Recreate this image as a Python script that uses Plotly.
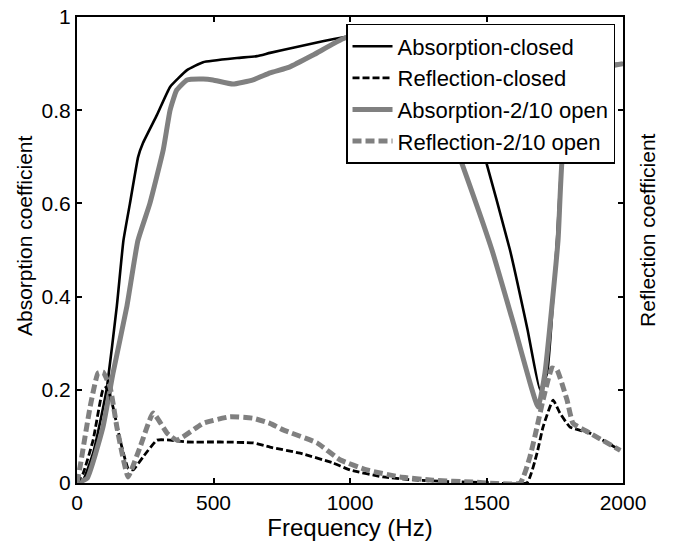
import plotly.graph_objects as go

# ---- data ----
abs_closed_f = [0, 22, 59, 95, 110, 146, 170, 194, 224, 242, 293, 341, 403, 462, 586, 659, 707, 800, 900, 982,
                1100, 1200, 1300, 1400, 1484, 1586, 1650, 1696, 1722, 1758, 1780, 1850, 1920, 2000]
abs_closed_v = [0, 0.006, 0.064, 0.16, 0.206, 0.38, 0.52, 0.60, 0.70, 0.73, 0.79, 0.85, 0.886, 0.903, 0.912, 0.916,
                0.923, 0.935, 0.948, 0.957, 0.968, 0.972, 0.955, 0.88, 0.72, 0.50, 0.33, 0.20, 0.236, 0.52, 0.72,
                0.86, 0.895, 0.90]

refl_closed_f = [0, 22, 59, 95, 110, 132, 158, 187, 205, 242, 293, 341, 403, 524, 645, 707, 817, 938, 1000, 1121,
                 1245, 1366, 1500, 1648, 1685, 1707, 1744, 1769, 1806, 1879, 1990]
refl_closed_v = [0, 0.02, 0.092, 0.20, 0.206, 0.163, 0.092, 0.032, 0.028, 0.056, 0.092, 0.092, 0.088, 0.088, 0.086,
                 0.077, 0.064, 0.043, 0.028, 0.013, 0.006, 0.003, 0.001, 0.0, 0.064, 0.12, 0.178, 0.15, 0.12,
                 0.107, 0.07]

abs_open_f = [0, 37, 95, 132, 183, 223, 267, 316, 341, 365, 403, 462, 498, 571, 645, 707, 780, 870, 982, 1100,
              1200, 1300, 1392, 1520, 1600, 1689, 1714, 1762, 1780, 1850, 1920, 2000]
abs_open_v = [0, 0.01, 0.12, 0.236, 0.38, 0.52, 0.60, 0.715, 0.80, 0.843, 0.865, 0.867, 0.865, 0.856, 0.865, 0.88,
              0.893, 0.92, 0.955, 0.962, 0.94, 0.86, 0.715, 0.50, 0.34, 0.163, 0.236, 0.52, 0.715, 0.86, 0.89, 0.90]

refl_open_f = [0, 11, 48, 77, 95, 121, 146, 170, 187, 231, 279, 330, 366, 462, 560, 645, 707, 755, 879, 963, 1062,
               1183, 1304, 1450, 1623, 1659, 1685, 1707, 1740, 1758, 1795, 1817, 1879, 1990]
refl_open_v = [0, 0.034, 0.163, 0.236, 0.238, 0.206, 0.12, 0.05, 0.013, 0.077, 0.15, 0.107, 0.092, 0.128, 0.142,
               0.139, 0.128, 0.114, 0.086, 0.05, 0.028, 0.013, 0.006, 0.002, 0.0, 0.056, 0.12, 0.178, 0.247,
               0.243, 0.178, 0.128, 0.107, 0.07]

x_ticks = [0, 500, 1000, 1500, 2000]
y_ticks = [0, 0.2, 0.4, 0.6, 0.8, 1]

FONT = "Liberation Sans, Arial, sans-serif"
GRAY = "#808080"

fig = go.Figure()
fig.add_trace(go.Scatter(x=abs_closed_f, y=abs_closed_v, mode="lines", name="Absorption-closed",
                         line=dict(color="black", width=2.6, shape="spline", smoothing=0.4)))
fig.add_trace(go.Scatter(x=refl_closed_f, y=refl_closed_v, mode="lines", name="Reflection-closed",
                         line=dict(color="black", width=2.8, dash="7px,3px", shape="spline", smoothing=0.4),
                         yaxis="y2"))
fig.add_trace(go.Scatter(x=abs_open_f, y=abs_open_v, mode="lines", name="Absorption-2/10 open",
                         line=dict(color=GRAY, width=5, shape="spline", smoothing=0.4)))
fig.add_trace(go.Scatter(x=refl_open_f, y=refl_open_v, mode="lines", name="Reflection-2/10 open",
                         line=dict(color=GRAY, width=5, dash="9px,4px", shape="spline", smoothing=0.4),
                         yaxis="y2"))

axis_common = dict(showgrid=False, zeroline=False, showline=True, linecolor="black", linewidth=2,
                   ticks="inside", ticklen=5, tickwidth=1.5, tickcolor="black", automargin=False,
                   tickfont=dict(family=FONT, size=21, color="black"))

fig.update_layout(
    width=673, height=543,
    margin=dict(l=77, r=50, t=17, b=60, autoexpand=False),
    paper_bgcolor="white", plot_bgcolor="white",
    font=dict(family=FONT, size=21, color="black"),
    xaxis=dict(range=[0, 2000], tickvals=x_ticks, mirror="ticks",
               title=dict(text="Frequency (Hz)", font=dict(family=FONT, size=24), standoff=2),
               **axis_common),
    yaxis=dict(range=[0, 1], tickvals=y_ticks, mirror="ticks", **axis_common),
    yaxis2=dict(range=[0, 1], overlaying="y", side="right", showgrid=False, zeroline=False,
                showline=False, ticks="", showticklabels=False, automargin=False),
    legend=dict(x=0.4927, y=0.985, xanchor="left", yanchor="top",
                bgcolor="white", bordercolor="black", borderwidth=1.5,
                font=dict(family=FONT, size=22, color="black"),
                tracegroupgap=0, itemwidth=40),
    annotations=[
        dict(text="Absorption coefficient", xref="paper", yref="paper", x=-0.097, y=0.530,
             xanchor="center", yanchor="middle", textangle=-90, showarrow=False,
             font=dict(family=FONT, size=21, color="black")),
        dict(text="Reflection coefficient", xref="paper", yref="paper", x=1.0458, y=0.543,
             xanchor="center", yanchor="middle", textangle=-90, showarrow=False,
             font=dict(family=FONT, size=21, color="black")),
    ],
    showlegend=True,
)

fig.write_html("out.html")
